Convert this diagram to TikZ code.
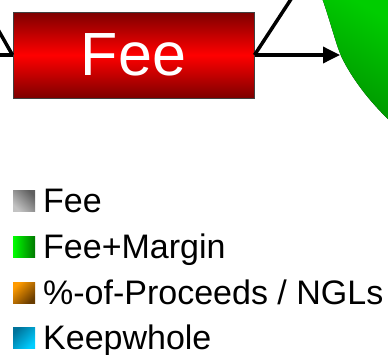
\documentclass[tikz,border=0pt]{standalone}
\usepackage{fontspec}
\setmainfont{Liberation Sans}
\usetikzlibrary{arrows.meta}
\definecolor{darkred}{RGB}{125,0,0}
\definecolor{brightred}{RGB}{255,0,0}
\definecolor{piegreenA}{RGB}{0,205,0}
\definecolor{piegreenB}{RGB}{0,145,0}
\definecolor{grayA}{RGB}{95,95,95}
\definecolor{grayB}{RGB}{195,195,195}
\definecolor{greenA}{RGB}{0,255,0}
\definecolor{greenB}{RGB}{0,120,0}
\definecolor{orangeA}{RGB}{255,155,0}
\definecolor{orangeB}{RGB}{105,60,0}
\definecolor{blueA}{RGB}{0,115,155}
\definecolor{blueB}{RGB}{0,205,255}
\tikzset{
  conn/.style={line width=3.5pt, black},
  feebox/.style={draw=black!75, line width=1pt, minimum width=241pt, minimum height=86pt,
    inner sep=0pt, top color=darkred, bottom color=darkred, middle color=brightred,
    text=white, font=\fontsize{61}{61}\selectfont},
  legsq/.style={minimum width=22pt, minimum height=21pt, inner sep=0pt},
  legtxt/.style={anchor=base west, inner sep=0pt, font=\fontsize{34}{34}\selectfont}
}
\begin{document}
\begin{tikzpicture}[x=1pt,y=-1pt]
\useasboundingbox (0,0) rectangle (388,354);
\clip (0,0) rectangle (388,354);
% green pie fragment
\fill[top color=piegreenA, bottom color=piegreenB, shading angle=-30]
  (322,-2) .. controls (330,20) and (336,45) .. (342,58)
  .. controls (352,78) and (368,100) .. (390,121) -- (390,-2) -- cycle;
% box
\node[feebox] (fee) at (133.5,55) {Fee};
\coordinate (inL) at (-12,12);
\coordinate (inH) at (-5,55);
\coordinate (outU) at (297,-10);
\coordinate (tip) at (340,55);
\draw[conn] (inL) -- (fee.west);
\draw[conn] (inH) -- (fee.west);
\draw[conn] (fee.east) -- (outU);
\draw[conn, -{Triangle[length=17pt,width=16pt]}] (fee.east) -- (tip);
% legend
\node[legsq, top color=grayA, bottom color=grayB, shading angle=-45] (s1) at (24,200.5) {};
\node[legsq, left color=greenA, right color=greenB] (s2) at (24,246.5) {};
\node[legsq, top color=orangeA, bottom color=orangeB, shading angle=45] (s3) at (24,292.5) {};
\node[legsq, top color=blueA, bottom color=blueB, shading angle=45] (s4) at (24,337.5) {};
\node[legtxt] (t1) at (43,212) {Fee};
\node[legtxt] (t2) at (43,258) {Fee+Margin};
\node[legtxt] (t3) at (43,304) {\%-of-Proceeds / NGLs};
\node[legtxt] (t4) at (43,349) {Keepwhole};
\end{tikzpicture}
\end{document}
